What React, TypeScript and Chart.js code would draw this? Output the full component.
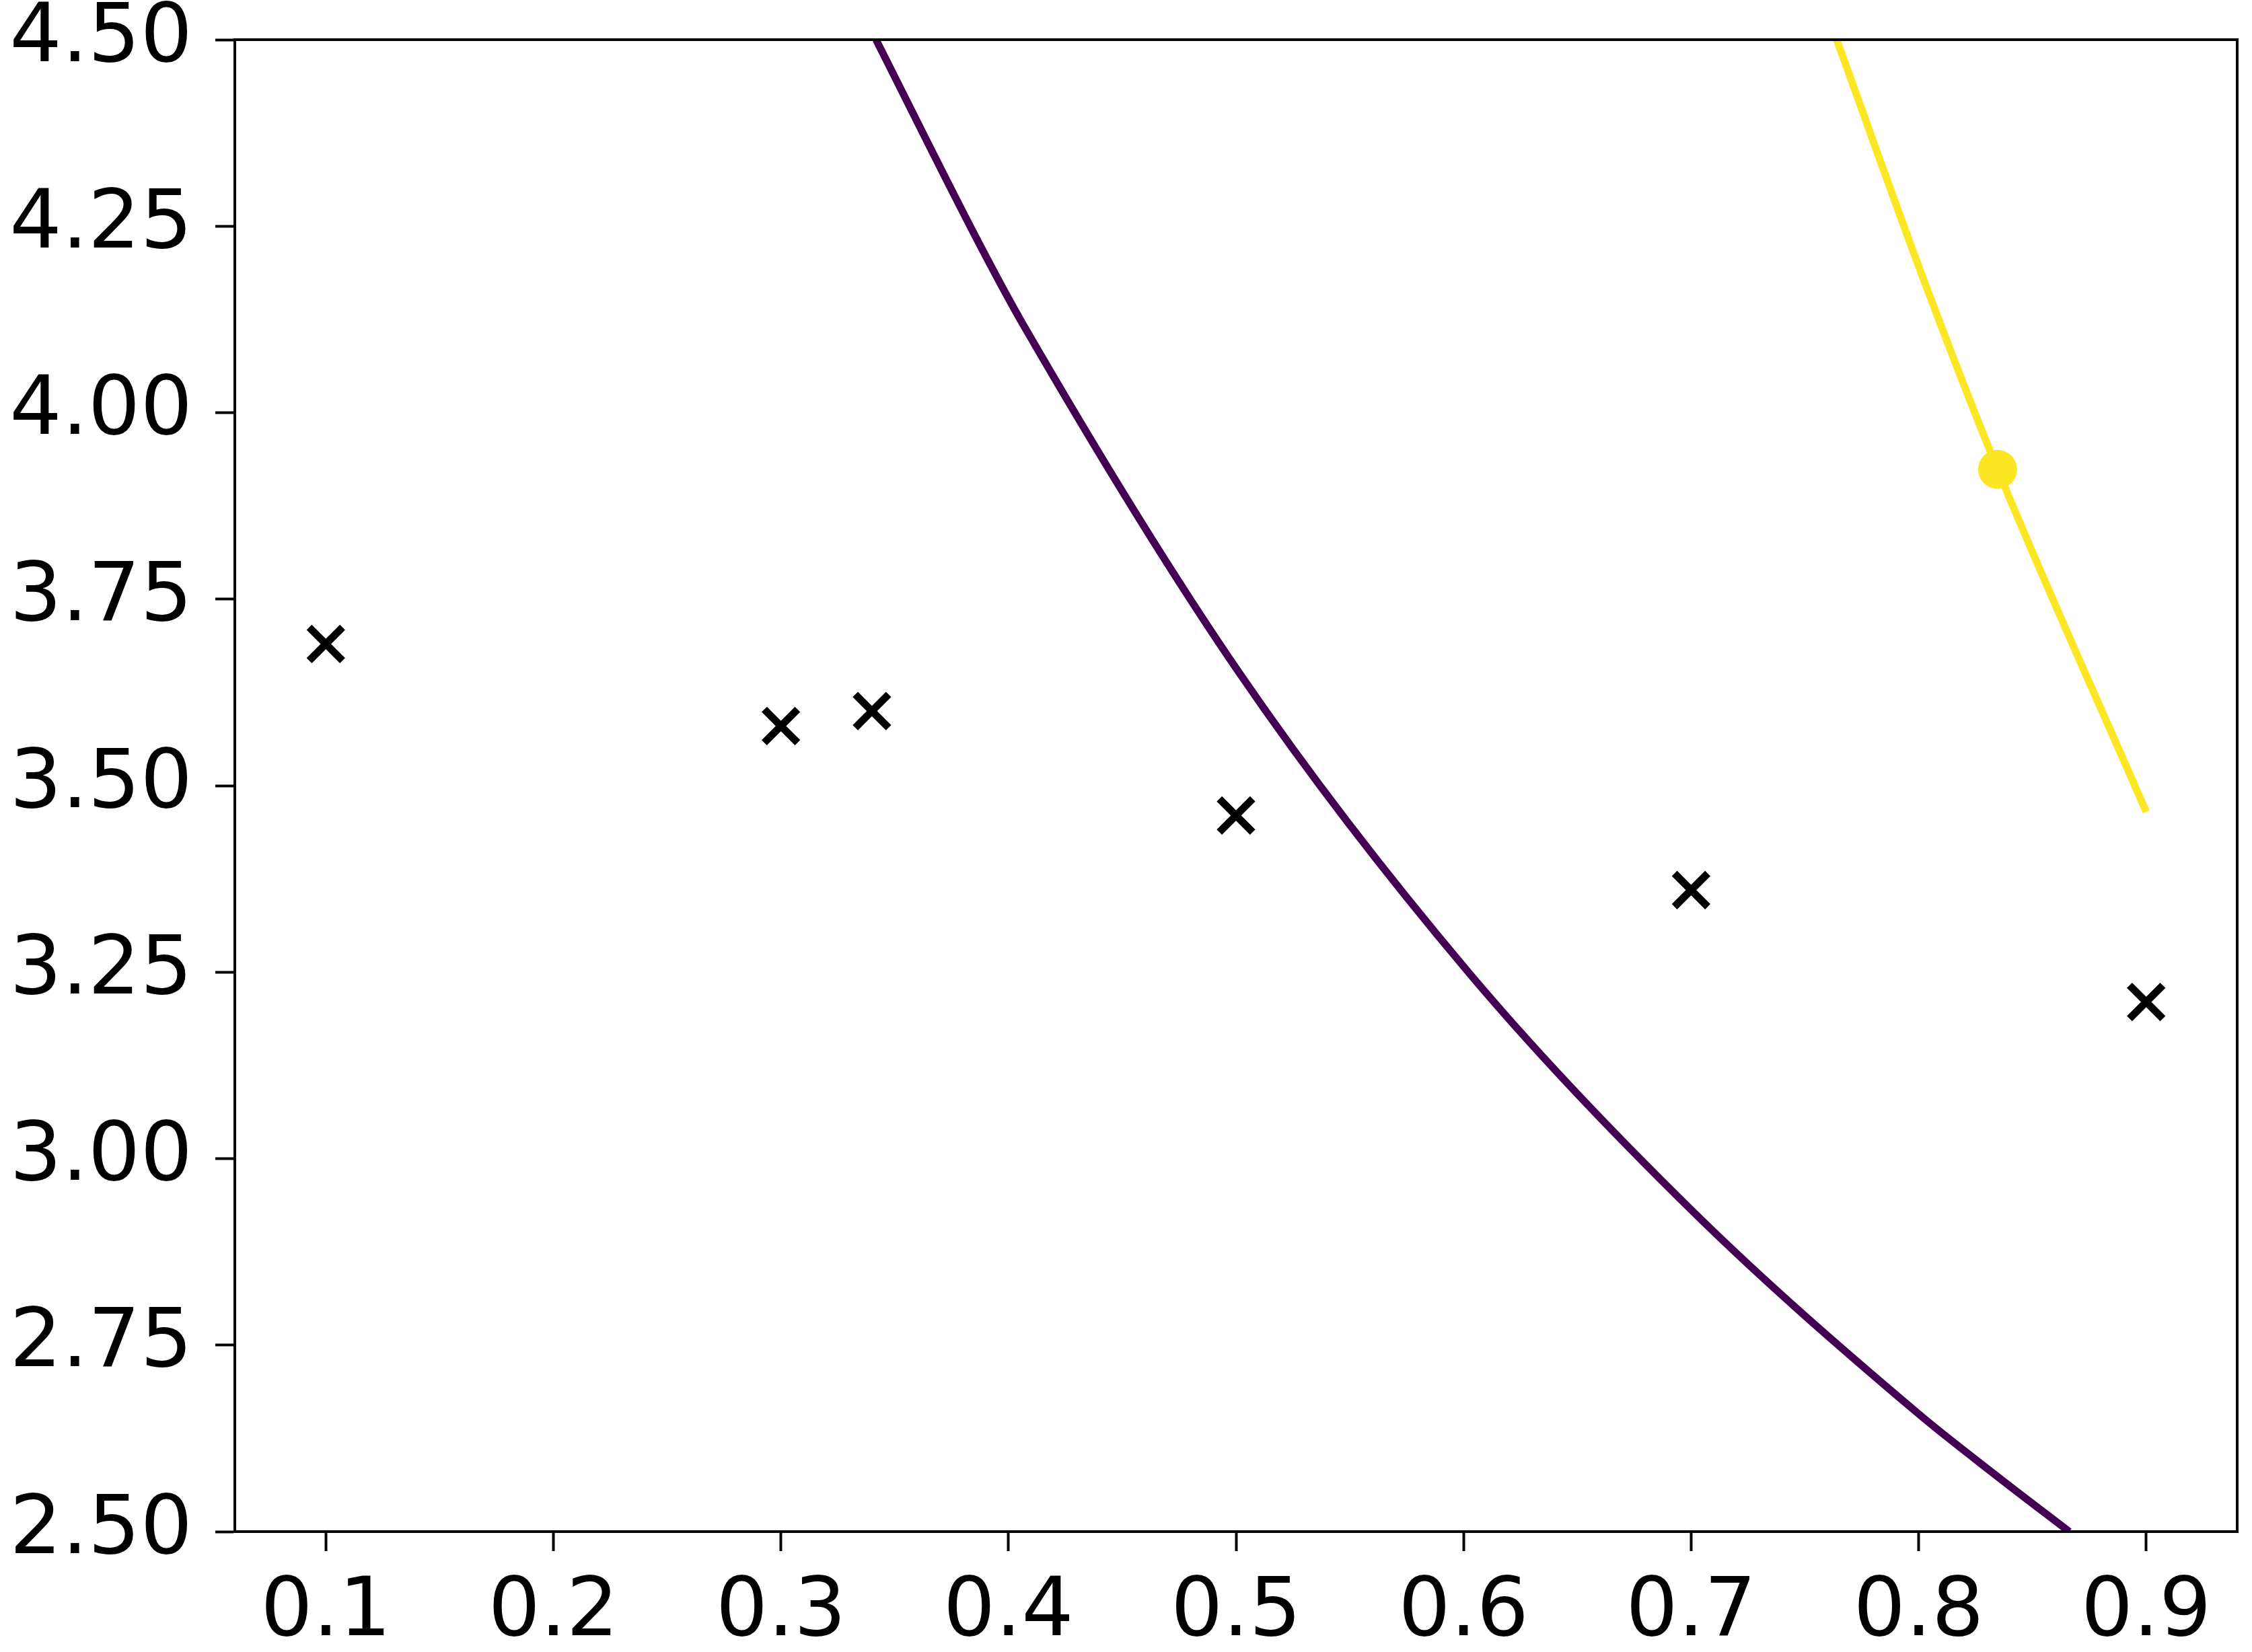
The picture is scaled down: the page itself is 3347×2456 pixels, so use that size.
import React, { useEffect, useRef } from "react";
import { Chart, registerables } from "chart.js";

Chart.register(...registerables);

const xTicks = [0.1, 0.2, 0.3, 0.4, 0.5, 0.6, 0.7, 0.8, 0.9];
const yTicks = [2.5, 2.75, 3.0, 3.25, 3.5, 3.75, 4.0, 4.25, 4.5];

const markerX = [0.1, 0.3, 0.34, 0.5, 0.7, 0.9];
const markerY = [3.69, 3.58, 3.6, 3.46, 3.36, 3.21];

const purpleX = [0.3418, 0.3869, 0.4061, 0.5017, 0.6021, 0.7005, 0.7995, 0.835, 0.8662];
const purpleY = [4.5, 4.228, 4.12, 3.65, 3.25, 2.93, 2.659, 2.573, 2.5];

const yellowX = [0.764, 0.802, 0.8347, 0.9];
const yellowY = [4.5, 4.18, 3.924, 3.465];

const dotX = [0.8347];
const dotY = [3.924];

const PURPLE = "#440154";
const YELLOW = "#fde725";

const zip = (xs: number[], ys: number[]) => xs.map((x, i) => ({ x, y: ys[i] }));

const framePlugin = {
  id: "frame",
  afterDraw(chart: any) {
    const { ctx, chartArea } = chart;
    ctx.save();
    ctx.strokeStyle = "#000";
    ctx.lineWidth = 4;
    ctx.strokeRect(chartArea.left, chartArea.top, chartArea.right - chartArea.left, chartArea.bottom - chartArea.top);
    ctx.restore();
  },
};

const zeroPad = (s: any) => {
  s.paddingTop = 0;
  s.paddingBottom = 0;
  s.paddingLeft = 0;
  s.paddingRight = 0;
};

export default function App() {
  const ref = useRef<HTMLCanvasElement>(null);
  useEffect(() => {
    if (!ref.current) return;
    const font = { family: "'DejaVu Sans'", size: 122 };
    const chart = new Chart(ref.current, {
      type: "scatter",
      data: {
        datasets: [
          {
            data: zip(dotX, dotY),
            pointRadius: 29,
            pointBackgroundColor: YELLOW,
            pointBorderWidth: 0,
            borderColor: YELLOW,
            showLine: false,
          },
          {
            data: zip(yellowX, yellowY),
            showLine: true,
            borderColor: YELLOW,
            borderWidth: 11,
            pointRadius: 0,
            cubicInterpolationMode: "monotone",
          },
          {
            data: zip(purpleX, purpleY),
            showLine: true,
            borderColor: PURPLE,
            borderWidth: 11,
            pointRadius: 0,
            cubicInterpolationMode: "monotone",
          },
          {
            data: zip(markerX, markerY),
            showLine: false,
            pointStyle: "crossRot",
            pointRadius: 35,
            pointBorderWidth: 11,
            pointBorderColor: "#000",
            borderColor: "#000",
          },
        ] as any,
      },
      options: {
        animation: false,
        responsive: false,
        devicePixelRatio: 1,
        layout: { autoPadding: false, padding: { top: 59, right: 22, left: 0, bottom: 0 } },
        plugins: { legend: { display: false }, tooltip: { enabled: false } },
        scales: {
          x: {
            type: "linear",
            min: 0.06,
            max: 0.94,
            afterBuildTicks: (s: any) => {
              s.ticks = xTicks.map((v) => ({ value: v }));
            },
            afterFit: (s: any) => {
              s.height = 179;
              zeroPad(s);
            },
            ticks: {
              font,
              color: "#000",
              padding: 20,
              maxRotation: 0,
              autoSkip: false,
              callback: (v: any) => Number(v).toFixed(1),
            },
            grid: {
              display: true,
              drawOnChartArea: false,
              drawTicks: true,
              tickLength: 29,
              tickWidth: 4,
              tickColor: "#000",
            },
            border: { display: true, color: "#000", width: 4 },
          },
          y: {
            type: "linear",
            min: 2.5,
            max: 4.5,
            afterBuildTicks: (s: any) => {
              s.ticks = yTicks.map((v) => ({ value: v }));
            },
            afterFit: (s: any) => {
              s.width = 349;
              zeroPad(s);
            },
            ticks: {
              font,
              color: "#000",
              padding: 34,
              autoSkip: false,
              callback: (v: any) => Number(v).toFixed(2),
            },
            grid: {
              display: true,
              drawOnChartArea: false,
              drawTicks: true,
              tickLength: 29,
              tickWidth: 4,
              tickColor: "#000",
            },
            border: { display: true, color: "#000", width: 4 },
          },
        },
      } as any,
      plugins: [framePlugin],
    });
    return () => chart.destroy();
  }, []);
  return (
    <div style={{ position: "fixed", left: 0, top: 0, width: 3347, height: 2456, background: "#fff" }}>
      <canvas ref={ref} width={3347} height={2456} style={{ width: 3347, height: 2456, display: "block" }} />
    </div>
  );
}
